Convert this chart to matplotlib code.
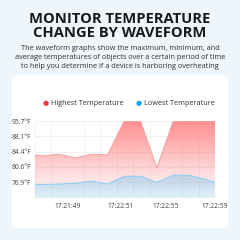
import numpy as np
import matplotlib.pyplot as plt
from matplotlib.patches import FancyBboxPatch
from matplotlib.colors import to_rgb

# 数据 (deg F)
times = ['17:21:46', '17:21:47', '17:21:48', '17:21:49', '17:21:50', '17:22:50',
         '17:22:51', '17:22:52', '17:22:54', '17:22:55', '17:22:57', '17:22:58', '17:22:59']
highest = [83.8, 83.3, 83.7, 82.8, 83.7, 83.6, 95.7, 95.7, 80.3, 95.7, 95.7, 95.7, 95.7]
lowest = [76.4, 76.3, 76.4, 76.6, 77.1, 76.4, 78.3, 78.3, 76.8, 78.6, 78.5, 77.5, 76.4]
y_levels = [73.2, 76.9, 80.6, 84.4, 88.1, 95.7]
y_labels = ['', '76.9°F', '80.6°F', '84.4°F', '88.1°F', '95.7°F']
x_labels = ['17:21:49', '17:22:51', '17:22:55', '17:22:59']

red = '#f03c3c'
blue = '#1ea5f0'

fig = plt.figure(figsize=(2.4, 2.4), dpi=100)
fig.patch.set_facecolor('#eef5fb')

# white card
card = FancyBboxPatch((0.05, 0.05), 0.9, 0.6375, boxstyle='round,pad=0,rounding_size=0.025',
                      transform=fig.transFigure, facecolor='white', edgecolor='none', zorder=-5)
fig.patches.append(card)

fig.text(0.5, 0.892, 'MONITOR TEMPERATURE\nCHANGE BY WAVEFORM', ha='center', va='center',
         fontsize=10.6, fontweight='bold', family='Open Sans', color='#1a1a1a', linespacing=1.0)
fig.text(0.5, 0.76, 'The waveform graphs show the maximum, minimum, and\n'
         'average temperatures of objects over a certain period of time\n'
         'to help you determine if a device is harboring overheating',
         ha='center', va='center', fontsize=5.3, family='Open Sans', color='#333333',
         linespacing=1.35)

# legend
fig.text(46 / 240, 1 - 103.5 / 240, '●', color=red, fontsize=5, ha='center', va='center')
fig.text(51 / 240, 1 - 103.5 / 240, 'Highest Temperature', color='#333333', fontsize=5.2,
         family='Open Sans', ha='left', va='center')
fig.text(138.5 / 240, 1 - 103.5 / 240, '●', color=blue, fontsize=5, ha='center', va='center')
fig.text(144 / 240, 1 - 103.5 / 240, 'Lowest Temperature', color='#333333', fontsize=5.2,
         family='Open Sans', ha='left', va='center')

ax = fig.add_axes([35 / 240, 1 - 197.3 / 240, 180 / 240, 76.3 / 240], zorder=2)
ax.set_facecolor('none')

# y 轴刻度等距 -> piecewise scale
pos = np.arange(len(y_levels))
ax.set_yscale('function', functions=(lambda v: np.interp(v, y_levels, pos),
                                     lambda p: np.interp(p, pos, y_levels)))
ax.set_ylim(y_levels[0], y_levels[-1])
ax.set_xlim(0, 11)

x = np.arange(len(times)) - 0.55


def gradient_fill(xs, ys, color, a_top, a_bot, z):
    poly = ax.fill_between(xs, ys, y_levels[0], facecolor='none', edgecolor='none', zorder=z)
    grad = np.zeros((100, 1, 4))
    grad[:, 0, :3] = to_rgb(color)
    grad[:, 0, 3] = np.linspace(a_top, a_bot, 100)
    im = ax.imshow(grad, extent=[0, 1, 0, 1], transform=ax.transAxes, aspect='auto',
                   origin='upper', zorder=z, interpolation='bilinear')
    im.set_clip_path(poly.get_paths()[0], transform=ax.transData)


gradient_fill(x, highest, '#ff7a7a', 0.85, 0.0, 2)
ax.plot(x, highest, color='#f2a5a5', lw=0.8, zorder=3)
gradient_fill(x, lowest, '#4fb9ef', 0.75, 0.2, 4)
ax.plot(x, lowest, color='#8fd0f2', lw=0.8, zorder=5)
ax.set_xlim(0, 11)
ax.set_ylim(y_levels[0], y_levels[-1])

# 网格
ax.set_yticks(y_levels)
ax.set_yticklabels(y_labels)
ax.set_xticks(np.arange(12), minor=True)
ax.set_xticks([2, 5.25, 8, 11])
ax.set_xticklabels(x_labels)
ax.grid(True, which='minor', axis='x', color='#ececec', lw=0.5)
ax.grid(True, which='major', axis='y', color='#ececec', lw=0.5)
ax.tick_params(axis='both', which='both', length=0, labelsize=4.8, colors='#444444', pad=3)
ax.tick_params(axis='x', pad=4)
for lab in ax.get_xticklabels() + ax.get_yticklabels():
    lab.set_family('Open Sans')
for s in ['top', 'right', 'left']:
    ax.spines[s].set_visible(False)
ax.spines['bottom'].set_color('#e6e6e6')
ax.spines['bottom'].set_linewidth(0.6)

fig.savefig('out.png', dpi=100, facecolor=fig.get_facecolor())
